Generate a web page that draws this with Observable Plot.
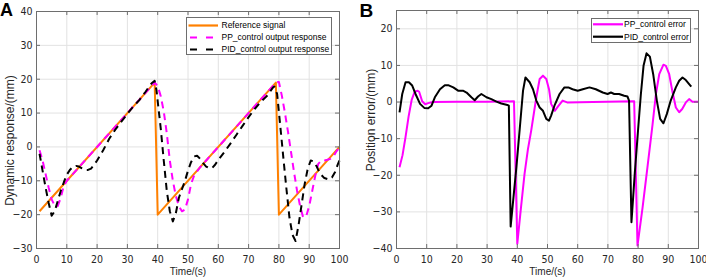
<!DOCTYPE html>
<html>
<head>
<meta charset="utf-8">
<script src="https://cdn.jsdelivr.net/npm/d3@7"></script>
<script src="https://cdn.jsdelivr.net/npm/@observablehq/plot@0.6"></script>
<style>
  html, body { margin: 0; padding: 0; background: #fff; }
  #wrap { position: relative; width: 706px; height: 278px; overflow: hidden; }
  #wrap > svg { position: absolute; top: 0; }
</style>
</head>
<body>
<div id="wrap"></div>
<script>
// ---------- data ----------
const xTicks = [0, 10, 20, 30, 40, 50, 60, 70, 80, 90, 100];
const yTicksA = [-30, -20, -10, 0, 10, 20, 30, 40];
const yTicksB = [-40, -30, -20, -10, 0, 10, 20];

const xLabel = "Time/(s)";
const yLabelA = "Dynamic response/(mm)";
const yLabelB = "Position error/(mm)";

const legendA = ["Reference signal", "PP_control output response", "PID_control output response"];
const legendB = ["PP_control error", "PID_control error"];

// Panel A: reference signal
const refT = [1, 39, 40, 79, 80, 100];
const refV = [-19, 19, -20, 19, -20, 0];

// Panel A: PP control output response
const ppOutT = [1, 2, 3, 4, 5, 6, 7, 8, 9, 10, 11, 39, 40, 41, 42, 43, 44, 45, 46, 47, 48, 49, 50, 51, 52, 53, 54, 55, 56, 79, 80, 81, 82, 83, 84, 85, 86, 87, 88, 89, 90, 91, 92, 93, 94, 95, 96, 97, 98, 99, 100];
const ppOutV = [-1, -4, -8, -12, -15.5, -17.3, -17.5, -15, -11.5, -10, -9, 19, 18, 15, 10.5, 4, -4, -10, -14.5, -17.5, -19, -18.5, -15.5, -11, -8.5, -7.2, -6, -5, -4, 19, 19.2, 15, 10, 4.5, -1.5, -7.5, -13, -17.5, -20.8, -20.5, -17.5, -13, -8.5, -5, -4, -4, -3.8, -3.5, -2.8, -1.3, -0.2];

// Panel A: PID control output response
const pidOutT = [1, 2, 3, 4, 5, 6, 7, 8, 9, 10, 11, 12, 13, 14, 15, 16, 17, 18, 19, 20, 22, 24, 26, 28, 30, 32, 34, 36, 37, 38, 39, 39.6, 41, 42, 43, 44, 45, 46, 47, 48, 49, 50, 51, 52, 53, 54, 55, 56, 57, 58, 59, 60, 62, 64, 66, 68, 70, 72, 74, 76, 77, 78, 78.5, 79.4, 80.5, 81.5, 82.5, 83.5, 84.5, 85.5, 86.5, 87.5, 88.5, 89.5, 90.5, 91.5, 92.5, 93.5, 95, 96.5, 97.5, 98.5, 99.5, 100];
const pidOutV = [-2, -7, -12, -16.5, -20.3, -19, -16, -13, -10.5, -8.2, -6.8, -5.9, -5.6, -5.8, -6.3, -6.8, -6.8, -6.4, -5.3, -4, -1, 2.4, 5.1, 7.5, 9.8, 12, 13.9, 16.3, 17.6, 18.8, 19.5, 16.7, 5.5, -4, -13, -19, -22, -19.5, -15, -12.5, -10, -7, -4.5, -2.8, -2.6, -3.5, -4.8, -5.8, -6.3, -6.2, -5.2, -3.8, -1.5, 1, 3.6, 6.2, 8.8, 11.2, 13.3, 15, 16.2, 17.5, 17.8, 15.7, 5.8, -3.5, -12.5, -21, -26, -27.8, -23, -17, -11, -6.5, -4, -4.3, -5.8, -7.8, -9.2, -9.6, -9, -7.5, -5, -4];

// Panel B: PP control error
const ppErrT = [1, 2, 3, 4, 5, 6, 7, 7.5, 8.5, 9.5, 10.5, 12, 20, 30, 38.9, 40, 41.2, 42.4, 43.5, 44.6, 45.5, 46.3, 47.4, 48.5, 49.6, 50.5, 51.2, 52.4, 53.5, 55, 56.5, 65, 78.7, 79.8, 81.5, 83.1, 84.8, 85.9, 87, 88.4, 89.2, 90.3, 91.3, 92.5, 93.6, 94.6, 95.8, 96.9, 98, 100];
const ppErrV = [-17.8, -14.5, -9.5, -4, 0.5, 2.8, 3.1, 2.8, 0.2, -0.6, -0.3, 0, 0.1, 0.1, 0.2, -38.7, -29, -19.6, -13, -7.8, -3, 1.3, 6.3, 7.2, 6.3, 3.5, -0.5, -2.4, -1.2, 0.4, -0.1, 0, 0.2, -39.2, -28.7, -17.8, -6, 2.2, 7.6, 10.2, 9.9, 7.6, 3.1, -1.5, -2.8, -1.9, -0.1, 0.8, 0.1, 0.1];

// Panel B: PID control error
const pidErrT = [1, 1.9, 3, 4.1, 5.2, 6.3, 7.8, 9.2, 10.5, 11.6, 12.7, 14.4, 16, 17.1, 18.8, 20.4, 22, 23.2, 24.8, 25.9, 27, 28.1, 29.8, 31.4, 33.1, 34.7, 36.7, 37.2, 37.8, 39.7, 41.1, 41.9, 42.7, 44.1, 45.2, 46.3, 47.4, 48.5, 49.6, 50.5, 51.2, 52.3, 54, 55.6, 56.9, 58.3, 60, 61.7, 63.9, 66, 68.3, 69.9, 71, 72.1, 73.7, 75.4, 76.5, 77, 77.8, 78.9, 80, 80.9, 81.8, 82.8, 83.9, 85, 86.2, 87.3, 88.4, 89.5, 90.8, 92.5, 93.6, 94.7, 95.8, 96.9, 97.6];
const pidErrV = [-2.8, 2.2, 5.4, 5.4, 4.5, 2.2, -0.5, -1.6, -1.7, -1, 1.3, 3.5, 4.6, 4.6, 4, 3.1, 3.1, 2.6, 1.3, 0.5, 1.5, 2.2, 1.3, 0.8, 0.1, -0.4, -0.8, -1, -34, -17.8, -4.5, 3.1, 6.7, 5.4, 3.5, 0.4, -1.5, -2.4, -4.6, -5.1, -3.7, -1, 2.2, 4, 4, 3.5, 3.1, 3.5, 4, 3.5, 2.6, 2.2, 2.6, 2.2, 2.2, 1.7, 1.5, 0.4, -32.8, -19.5, -7.5, 2, 9.9, 13.3, 12.4, 7.6, 0.4, -4.6, -5.8, -3.3, 0.4, 4, 5.8, 6.7, 6, 4.9, 4.2];

// ---------- style ----------
const ORANGE = "#ff8000", MAGENTA = "#ff00ff", BLACK = "#000000";
const GRID = "#e2e2e2", FRAME = "#6e6e6e", TEXT = "#262626";
const TICK_FONT = "'Liberation Sans Narrow','DejaVu Sans Condensed','Liberation Sans',Arial,sans-serif";
const LABEL_FONT = "'Liberation Sans',Arial,sans-serif";
const DASH = "7,5";

function table(T, V) { return T.map((t, i) => ({t, v: V[i]})); }

function panel(o) {
  const H = 278;
  const iw = o.width - o.mL - o.mR, ih = H - o.mT - o.mB;
  const chart = Plot.plot({
    width: o.width, height: H,
    marginLeft: o.mL, marginRight: o.mR, marginTop: o.mT, marginBottom: o.mB,
    style: {background: "transparent", color: TEXT, fontFamily: LABEL_FONT, fontSize: "10px", overflow: "visible"},
    x: {domain: [0, 100]},
    y: {domain: o.yDomain},
    marks: [
      Plot.gridX(xTicks, {stroke: GRID, strokeOpacity: 1}),
      Plot.gridY(o.yTicks, {stroke: GRID, strokeOpacity: 1}),
      ...o.series.map(s => Plot.line(table(s.t, s.v), {
        x: "t", y: "v", stroke: s.color, strokeWidth: s.width,
        strokeDasharray: s.dash, strokeLinejoin: "round", strokeLinecap: "butt"
      })),
      Plot.tickX(xTicks, {x: d => d, insetTop: ih - 4, stroke: FRAME}),
      Plot.tickX(xTicks, {x: d => d, insetBottom: ih - 4, stroke: FRAME}),
      Plot.tickY(o.yTicks, {y: d => d, insetRight: iw - 4, stroke: FRAME}),
      Plot.tickY(o.yTicks, {y: d => d, insetLeft: iw - 4, stroke: FRAME}),
      Plot.axisX(xTicks, {tickSize: 0, tickPadding: 7.5, label: null, fontFamily: TICK_FONT, fontSize: 10.5, fill: TEXT}),
      Plot.axisY(o.yTicks, {tickSize: 0, tickPadding: 4, label: null, fontFamily: TICK_FONT, fontSize: 10.5, fill: TEXT}),
      Plot.frame({stroke: FRAME}),
      Plot.text([xLabel], {text: d => d, frameAnchor: "bottom", textAnchor: "middle", dx: 0, dy: 23.5, lineAnchor: "middle", fontSize: 10, fill: TEXT}),
      Plot.text([o.yLabel], {text: d => d, frameAnchor: "left", textAnchor: "middle", rotate: -90, dx: o.yLabelDx, dy: o.yLabelDy, lineAnchor: "middle", fontSize: 12, fill: TEXT})
    ]
  });
  chart.style.left = o.left + "px";
  return chart;
}

const wrap = document.getElementById("wrap");

wrap.appendChild(panel({
  left: 0, width: 353, mL: 36, mR: 14, mT: 11, mB: 30,
  yDomain: [-30, 40], yTicks: yTicksA, yLabel: yLabelA, yLabelDx: -26, yLabelDy: 10.5,
  series: [
    {t: refT, v: refV, color: ORANGE, width: 2},
    {t: ppOutT, v: ppOutV, color: MAGENTA, width: 2, dash: DASH},
    {t: pidOutT, v: pidOutV, color: BLACK, width: 2, dash: DASH}
  ]
}));

wrap.appendChild(panel({
  left: 353, width: 353, mL: 43, mR: 8, mT: 10, mB: 30,
  yDomain: [-40, 25], yTicks: yTicksB, yLabel: yLabelB, yLabelDx: -25, yLabelDy: -9.5,
  series: [
    {t: ppErrT, v: ppErrV, color: MAGENTA, width: 2},
    {t: pidErrT, v: pidErrV, color: BLACK, width: 2}
  ]
}));

// ---------- overlay: panel tags and legends ----------
const ov = d3.create("svg").attr("width", 706).attr("height", 278)
  .style("left", "0px").style("position", "absolute").style("top", "0px");

ov.append("text").attr("x", 0).attr("y", 15.5).text("A")
  .attr("font-family", LABEL_FONT).attr("font-weight", "bold").attr("font-size", 18).attr("fill", "#000");
ov.append("text").attr("x", 359.5).attr("y", 16.5).text("B")
  .attr("font-family", LABEL_FONT).attr("font-weight", "bold").attr("font-size", 19).attr("fill", "#000");

function legend(x, y, w, h, rows, items) {
  const g = ov.append("g");
  g.append("rect").attr("x", x + 0.5).attr("y", y + 0.5).attr("width", w).attr("height", h)
    .attr("fill", "#fff").attr("stroke", FRAME).attr("stroke-width", 1);
  items.forEach((it, i) => {
    const ry = y + rows[i];
    g.append("line").attr("x1", x + it.sx0).attr("x2", x + it.sx1).attr("y1", ry).attr("y2", ry)
      .attr("stroke", it.color).attr("stroke-width", 2.2)
      .attr("stroke-dasharray", it.dash || null);
    g.append("text").attr("x", x + it.tx).attr("y", ry).attr("dy", "0.35em")
      .attr("font-family", LABEL_FONT).attr("font-size", 8.5).attr("fill", "#000").text(it.label);
  });
}

legend(186, 17, 145, 37, [8.5, 20.5, 32.5], [
  {label: legendA[0], color: ORANGE, sx0: 2.5, sx1: 32, tx: 35.5},
  {label: legendA[1], color: MAGENTA, dash: "7,9", sx0: 4, sx1: 32, tx: 35.5},
  {label: legendA[2], color: BLACK, dash: "7,9", sx0: 4, sx1: 32, tx: 35.5}
]);

legend(591, 18, 99, 24, [6.3, 18.7], [
  {label: legendB[0], color: MAGENTA, sx0: 2, sx1: 32, tx: 33},
  {label: legendB[1], color: BLACK, sx0: 2, sx1: 32, tx: 33}
]);

wrap.appendChild(ov.node());
</script>
</body>
</html>
